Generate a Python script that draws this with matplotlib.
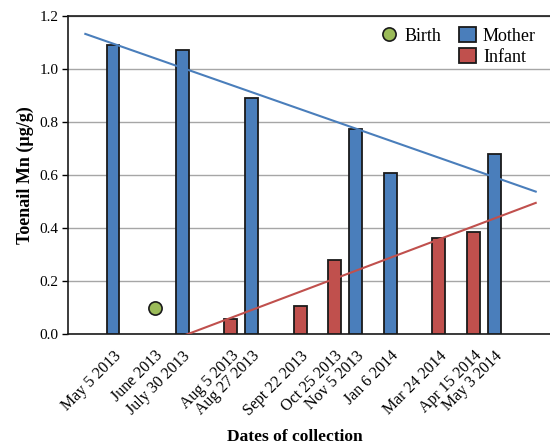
import numpy as np
import matplotlib
matplotlib.use("Agg")
import matplotlib.pyplot as plt
from matplotlib.lines import Line2D
from matplotlib.patches import Patch

plt.rcParams['font.family'] = ['Liberation Serif', 'DejaVu Serif']

# collection dates and their slot on the x axis
dates = ["May 5 2013", "June 2013", "July 30 2013", "Aug 5 2013", "Aug 27 2013",
         "Sept 22 2013", "Oct 25 2013", "Nov 5 2013", "Jan 6 2014", "Mar 24 2014",
         "Apr 15 2014", "May 3 2014"]
x_slots = [0, 6, 10, 17, 20, 27, 32, 35, 40, 47, 52, 55]

# toenail Mn (ug/g), nan = no sample on that date
mother = [1.09, np.nan, 1.07, np.nan, 0.89, np.nan, np.nan, 0.775, 0.607, np.nan, np.nan, 0.678]
infant = [np.nan, np.nan, np.nan, 0.057, np.nan, 0.107, 0.28, np.nan, np.nan, 0.362, 0.386, np.nan]
birth = [np.nan, 0.10, np.nan, np.nan, np.nan, np.nan, np.nan, np.nan, np.nan, np.nan, np.nan, np.nan]

blue = '#4a7ebb'
red = '#c0504d'
green = '#9bbb59'
edge = '#1a1a1a'

x = np.array(x_slots, dtype=float)
m = np.array(mother)
inf = np.array(infant)

fig = plt.figure(figsize=(5.5, 4.45), dpi=100)
ax = fig.add_axes([68 / 550, 111 / 445, 482 / 550, 318 / 445])

ax.set_ylim(0, 1.2)
ax.set_xlim(-6.5, 63.06)
ax.set_yticks(np.arange(0, 1.21, 0.2))
ax.set_yticklabels([f"{v:.1f}" for v in np.arange(0, 1.21, 0.2)], fontsize=11)
ax.yaxis.grid(True, color='#a6a6a6', linewidth=1.0)
ax.set_axisbelow(True)

ok = ~np.isnan(m)
ax.bar(x[ok], m[ok], width=1.85, color=blue, edgecolor=edge, linewidth=1.3, zorder=3)
ok = ~np.isnan(inf)
ax.bar(x[ok], inf[ok], width=1.85, color=red, edgecolor=edge, linewidth=1.3, zorder=3)

b = np.array(birth)
ok = ~np.isnan(b)
ax.plot(x[ok], b[ok], 'o', color=green, markeredgecolor=edge, markeredgewidth=1.2,
        markersize=9.5, zorder=4)

# linear trend lines for each series
xt = np.array([-4, 61])
ok = ~np.isnan(m)
k, c = np.polyfit(x[ok], m[ok], 1)
ax.plot(xt, k * xt + c, color=blue, linewidth=1.5, zorder=5)
ok = ~np.isnan(inf)
k, c = np.polyfit(x[ok], inf[ok], 1)
ax.plot(xt, k * xt + c, color=red, linewidth=1.5, zorder=5)

ax.set_xticks(x)
ax.set_xticklabels(dates, rotation=45, ha='right', va='top', rotation_mode='anchor', fontsize=11.5)
ax.tick_params(axis='x', length=0, pad=10)
ax.tick_params(axis='y', length=4, width=1, direction='out', pad=3)

ax.spines['right'].set_visible(False)
for s in ['left', 'bottom', 'top']:
    ax.spines[s].set_color(edge)
    ax.spines[s].set_linewidth(1.2)

ax.set_ylabel("Toenail Mn (\u00b5g/g)", fontsize=13, fontweight='bold', labelpad=4)
ax.set_xlabel("Dates of collection", fontsize=12.5, fontweight='bold')
ax.xaxis.set_label_coords((295 - 68) / 482, -(437 - 334) / 318)
ax.xaxis.label.set_va('center')

handles = [
    Line2D([], [], marker='o', linestyle='none', color=green, markeredgecolor=edge,
           markersize=9.5, markeredgewidth=1.2),
    Line2D([], [], linestyle='none'),
    Patch(facecolor=blue, edgecolor=edge, linewidth=1.3),
    Patch(facecolor=red, edgecolor=edge, linewidth=1.3),
]
names = ["Birth", "", "Mother", "Infant"]
ax.legend(handles, names, ncol=2, loc='upper right', bbox_to_anchor=(545 / 550, 1 - 18 / 445),
          bbox_transform=fig.transFigure, frameon=False, fontsize=13,
          handlelength=0.9, handleheight=0.9, handletextpad=0.4, columnspacing=1.0,
          labelspacing=0.2, borderpad=0)

fig.savefig("out.png", dpi=100)
